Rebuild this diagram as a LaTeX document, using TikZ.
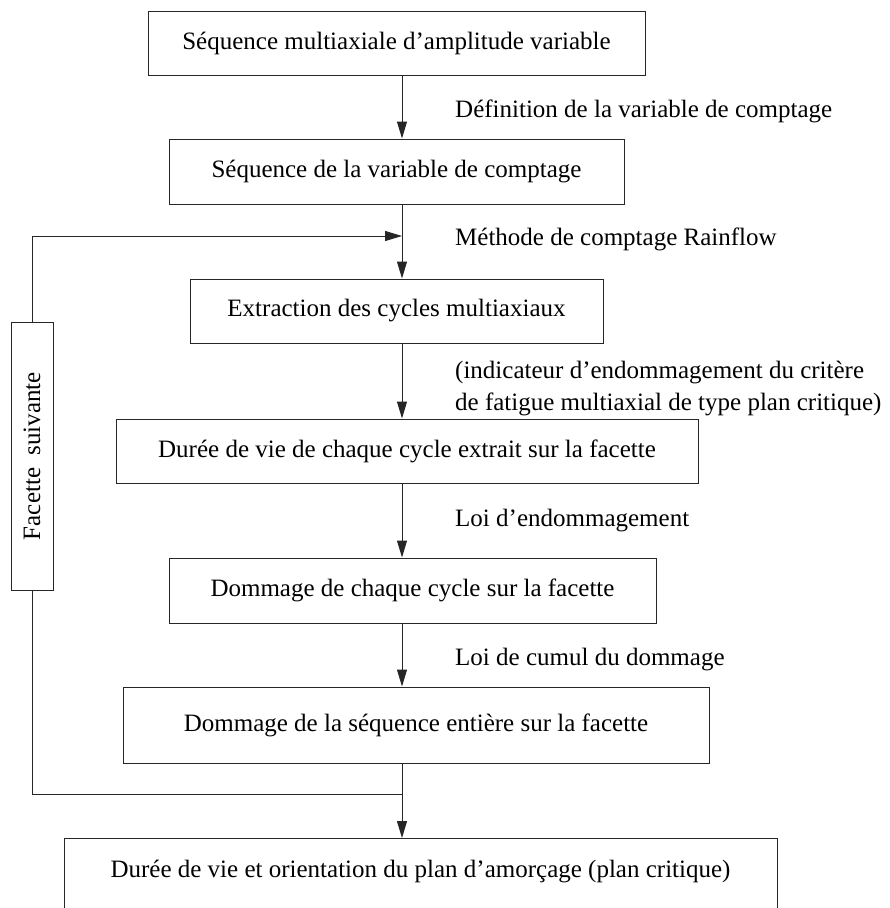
\documentclass[tikz,border=0pt]{standalone}
\usepackage{fontspec}
\setmainfont{Liberation Serif}
\usetikzlibrary{arrows.meta}
\begin{document}
\begin{tikzpicture}[x=1pt,y=-1pt,
  every node/.style={font=\fontsize{25}{29}\selectfont},
  box/.style={draw=black!85,line width=1pt,rectangle,inner sep=0pt},
  lbl/.style={anchor=west,inner sep=0pt},
  arr/.style={draw=black!85,line width=1pt,-{Triangle[length=17pt,width=10pt]}},
  ln/.style={draw=black!85,line width=1pt}]
\useasboundingbox (0,0) rectangle (890,908);
\begin{scope}
\clip (0,0) rectangle (890,908);
\node[box,minimum width=497,minimum height=64] (b1) at (396.5,43) {Séquence multiaxiale d’amplitude variable};
\node[box,minimum width=455,minimum height=65] (b2) at (396.5,171.5) {Séquence de la variable de comptage};
\node[box,minimum width=413,minimum height=64] (b3) at (396.5,311) {Extraction des cycles multiaxiaux};
\node[box,minimum width=582,minimum height=64] (b4) at (407,451) {Durée de vie de chaque cycle extrait sur la facette};
\node[box,minimum width=487,minimum height=65] (b5) at (412.5,590.5) {Dommage de chaque cycle sur la facette};
\node[box,minimum width=586,minimum height=76] (b6) at (416,725) {Dommage de la séquence entière sur la facette};
\node[box,minimum width=713,minimum height=140,anchor=north] (b7) at (420.5,838) {};
\node[inner sep=0pt] (t7) at (420.5,871) {Durée de vie et orientation du plan d’amorçage (plan critique)};
\node[box,minimum width=268,minimum height=42,rotate=90] (fs) at (32,456) {Facette\ \ suivante};

\node[lbl] (l1) at (455,111) {Définition de la variable de comptage};
\node[lbl] (l2) at (455,239) {Méthode de comptage Rainflow};
\node[lbl] (l3) at (455,373) {(indicateur d’endommagement du critère};
\node[lbl] (l4) at (455,404) {de fatigue multiaxial de type plan critique)};
\node[lbl] (l5) at (455,521) {Loi d’endommagement};
\node[lbl] (l6) at (455,660) {Loi de cumul du dommage};

\coordinate (ax) at (402,0);
\coordinate (jt) at (402,236);
\coordinate (jb) at (402,794);
\coordinate (lt) at (32,236);
\coordinate (lb) at (32,794);

\draw[arr] (b1.south -| ax) -- (b2.north -| ax);
\draw[arr] (b2.south -| ax) -- (b3.north -| ax);
\draw[arr] (b3.south -| ax) -- (b4.north -| ax);
\draw[arr] (b4.south -| ax) -- (b5.north -| ax);
\draw[arr] (b5.south -| ax) -- (b6.north -| ax);
\draw[arr] (b6.south -| ax) -- (b7.north -| ax);
\draw[ln] (jb) -- (lb) -- (fs.west);
\draw[arr] (fs.east) -- (lt) -- (jt);
\end{scope}
\end{tikzpicture}
\end{document}
